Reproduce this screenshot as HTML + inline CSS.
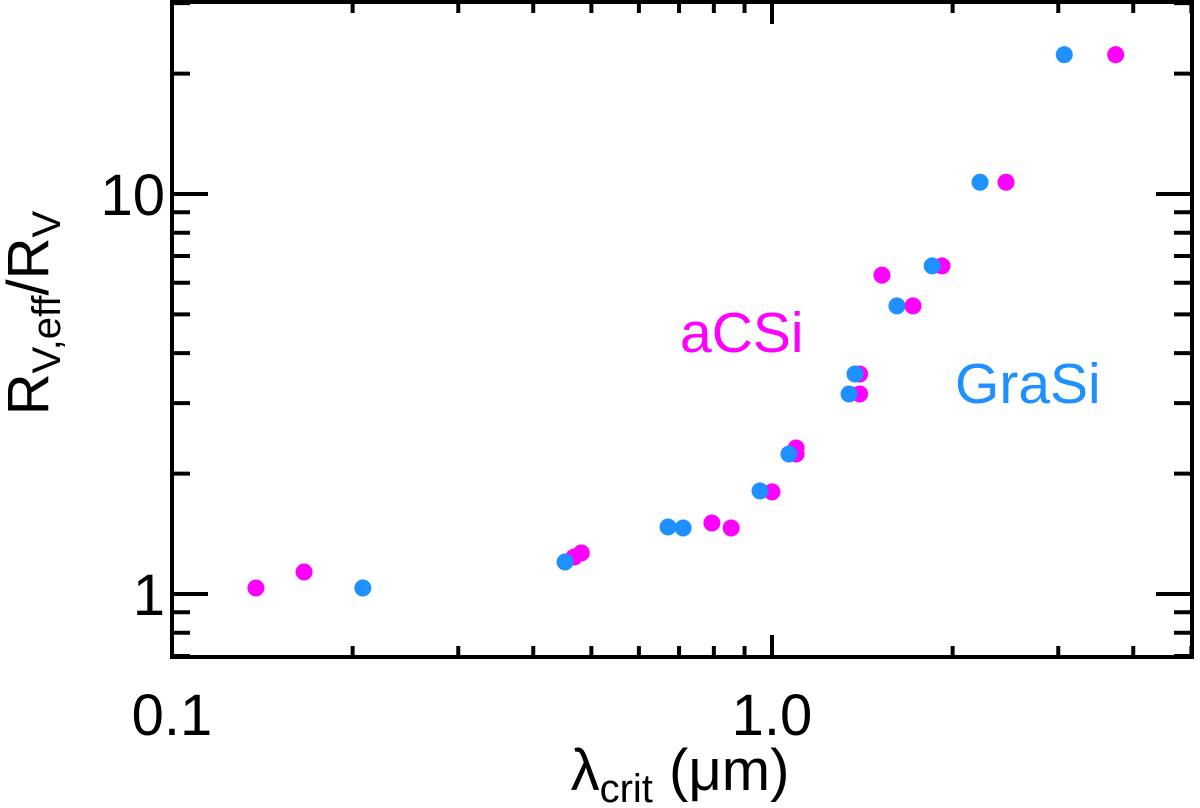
<!DOCTYPE html>
<html><head><meta charset="utf-8"><style>
body{margin:0;background:#fff}
svg{display:block;font-family:"Liberation Sans",sans-serif}
</style></head><body>
<svg id="chart" width="1200" height="808" viewBox="0 0 1200 808" xmlns="http://www.w3.org/2000/svg">
<g id="ticks"></g>
<g id="pts"></g>
<rect x="172" y="2" width="1020" height="655" fill="none" stroke="#000" stroke-width="4"/>
<g id="labels" font-size="58" fill="#000"></g>
<text x="680" y="352" font-size="57" fill="#ff00ff">aCSi</text>
<text x="955" y="403" font-size="57" fill="#1e90ff">GraSi</text>
<text x="680" y="790" text-anchor="middle" font-size="58">λ<tspan font-size="40" dy="12">crit</tspan><tspan dy="-12"> (μm)</tspan></text>
<text transform="translate(48,313) rotate(-90)" text-anchor="middle" font-size="58">R<tspan font-size="40" dy="12">V,eff</tspan><tspan dy="-12">/R</tspan><tspan font-size="40" dy="12">V</tspan></text>
</svg>
<script>
const acsiX=[0.138,0.166,0.468,0.481,0.794,0.855,1.0,1.097,1.097,1.40,1.40,1.525,1.718,1.92,2.455,3.74];
const acsiY=[1.035,1.135,1.237,1.266,1.505,1.462,1.80,2.317,2.239,3.548,3.162,6.27,5.25,6.61,10.7,22.3];
const grasiX=[0.208,0.452,0.671,0.711,0.955,1.067,1.375,1.344,1.615,1.849,2.222,3.07];
const grasiY=[1.035,1.202,1.471,1.462,1.81,2.239,3.548,3.162,5.25,6.61,10.7,22.3];
const xTickLabels=["0.1","1.0"];
const xTickValues=[0.1,1.0];
const yTickLabels=["1","10"];
const yTickValues=[1,10];
const NS="http://www.w3.org/2000/svg";
function sx(v){return 172+(Math.log10(v)+1)*600;}
function sy(v){return 594-Math.log10(v)*400;}
function mk(tag,attrs,parent){const e=document.createElementNS(NS,tag);for(const k in attrs)e.setAttribute(k,attrs[k]);parent.appendChild(e);return e;}
const T=document.getElementById('ticks');
for(let d=0.1;d<=1;d*=10){for(let m=1;m<=9;m++){const v=d*m;if(v>5.001)continue;const x=sx(v);const L=m===1?22:11;
 let a=mk('line',{x1:x,x2:x,y1:657,y2:657-L,stroke:'#000','stroke-width':4},T);
 
 
 let b=mk('line',{x1:x,x2:x,y1:2,y2:2+L,stroke:'#000','stroke-width':4},T);
 
 }}
for(let d=0.1;d<=10;d*=10){for(let m=1;m<=9;m++){const v=d*m;if(v<0.7||v>30.5)continue;const y=sy(v);const L=m===1?36:18;
 let a=mk('line',{x1:172,x2:172+L,y1:y,y2:y,stroke:'#000','stroke-width':4},T);
 
 
 let b=mk('line',{x1:1192,x2:1192-L,y1:y,y2:y,stroke:'#000','stroke-width':4},T);
 
 }}
const Lb=document.getElementById('labels');
xTickLabels.forEach((t,i)=>{const e=mk('text',{x:sx(xTickValues[i]),y:735,'text-anchor':'middle'},Lb);e.textContent=t;
 
 });
yTickLabels.forEach((t,i)=>{const e=mk('text',{x:165,y:sy(yTickValues[i])+21,'text-anchor':'end'},Lb);e.textContent=t;
 
 });
const P=document.getElementById('pts');
acsiX.forEach((x,i)=>{const c=mk('circle',{cx:sx(x),cy:sy(acsiY[i]),r:8.5,fill:'#ff00ff'},P);
 
 });
grasiX.forEach((x,i)=>{const c=mk('circle',{cx:sx(x),cy:sy(grasiY[i]),r:8.5,fill:'#1e90ff'},P);
 
 });
</script>
</body></html>
